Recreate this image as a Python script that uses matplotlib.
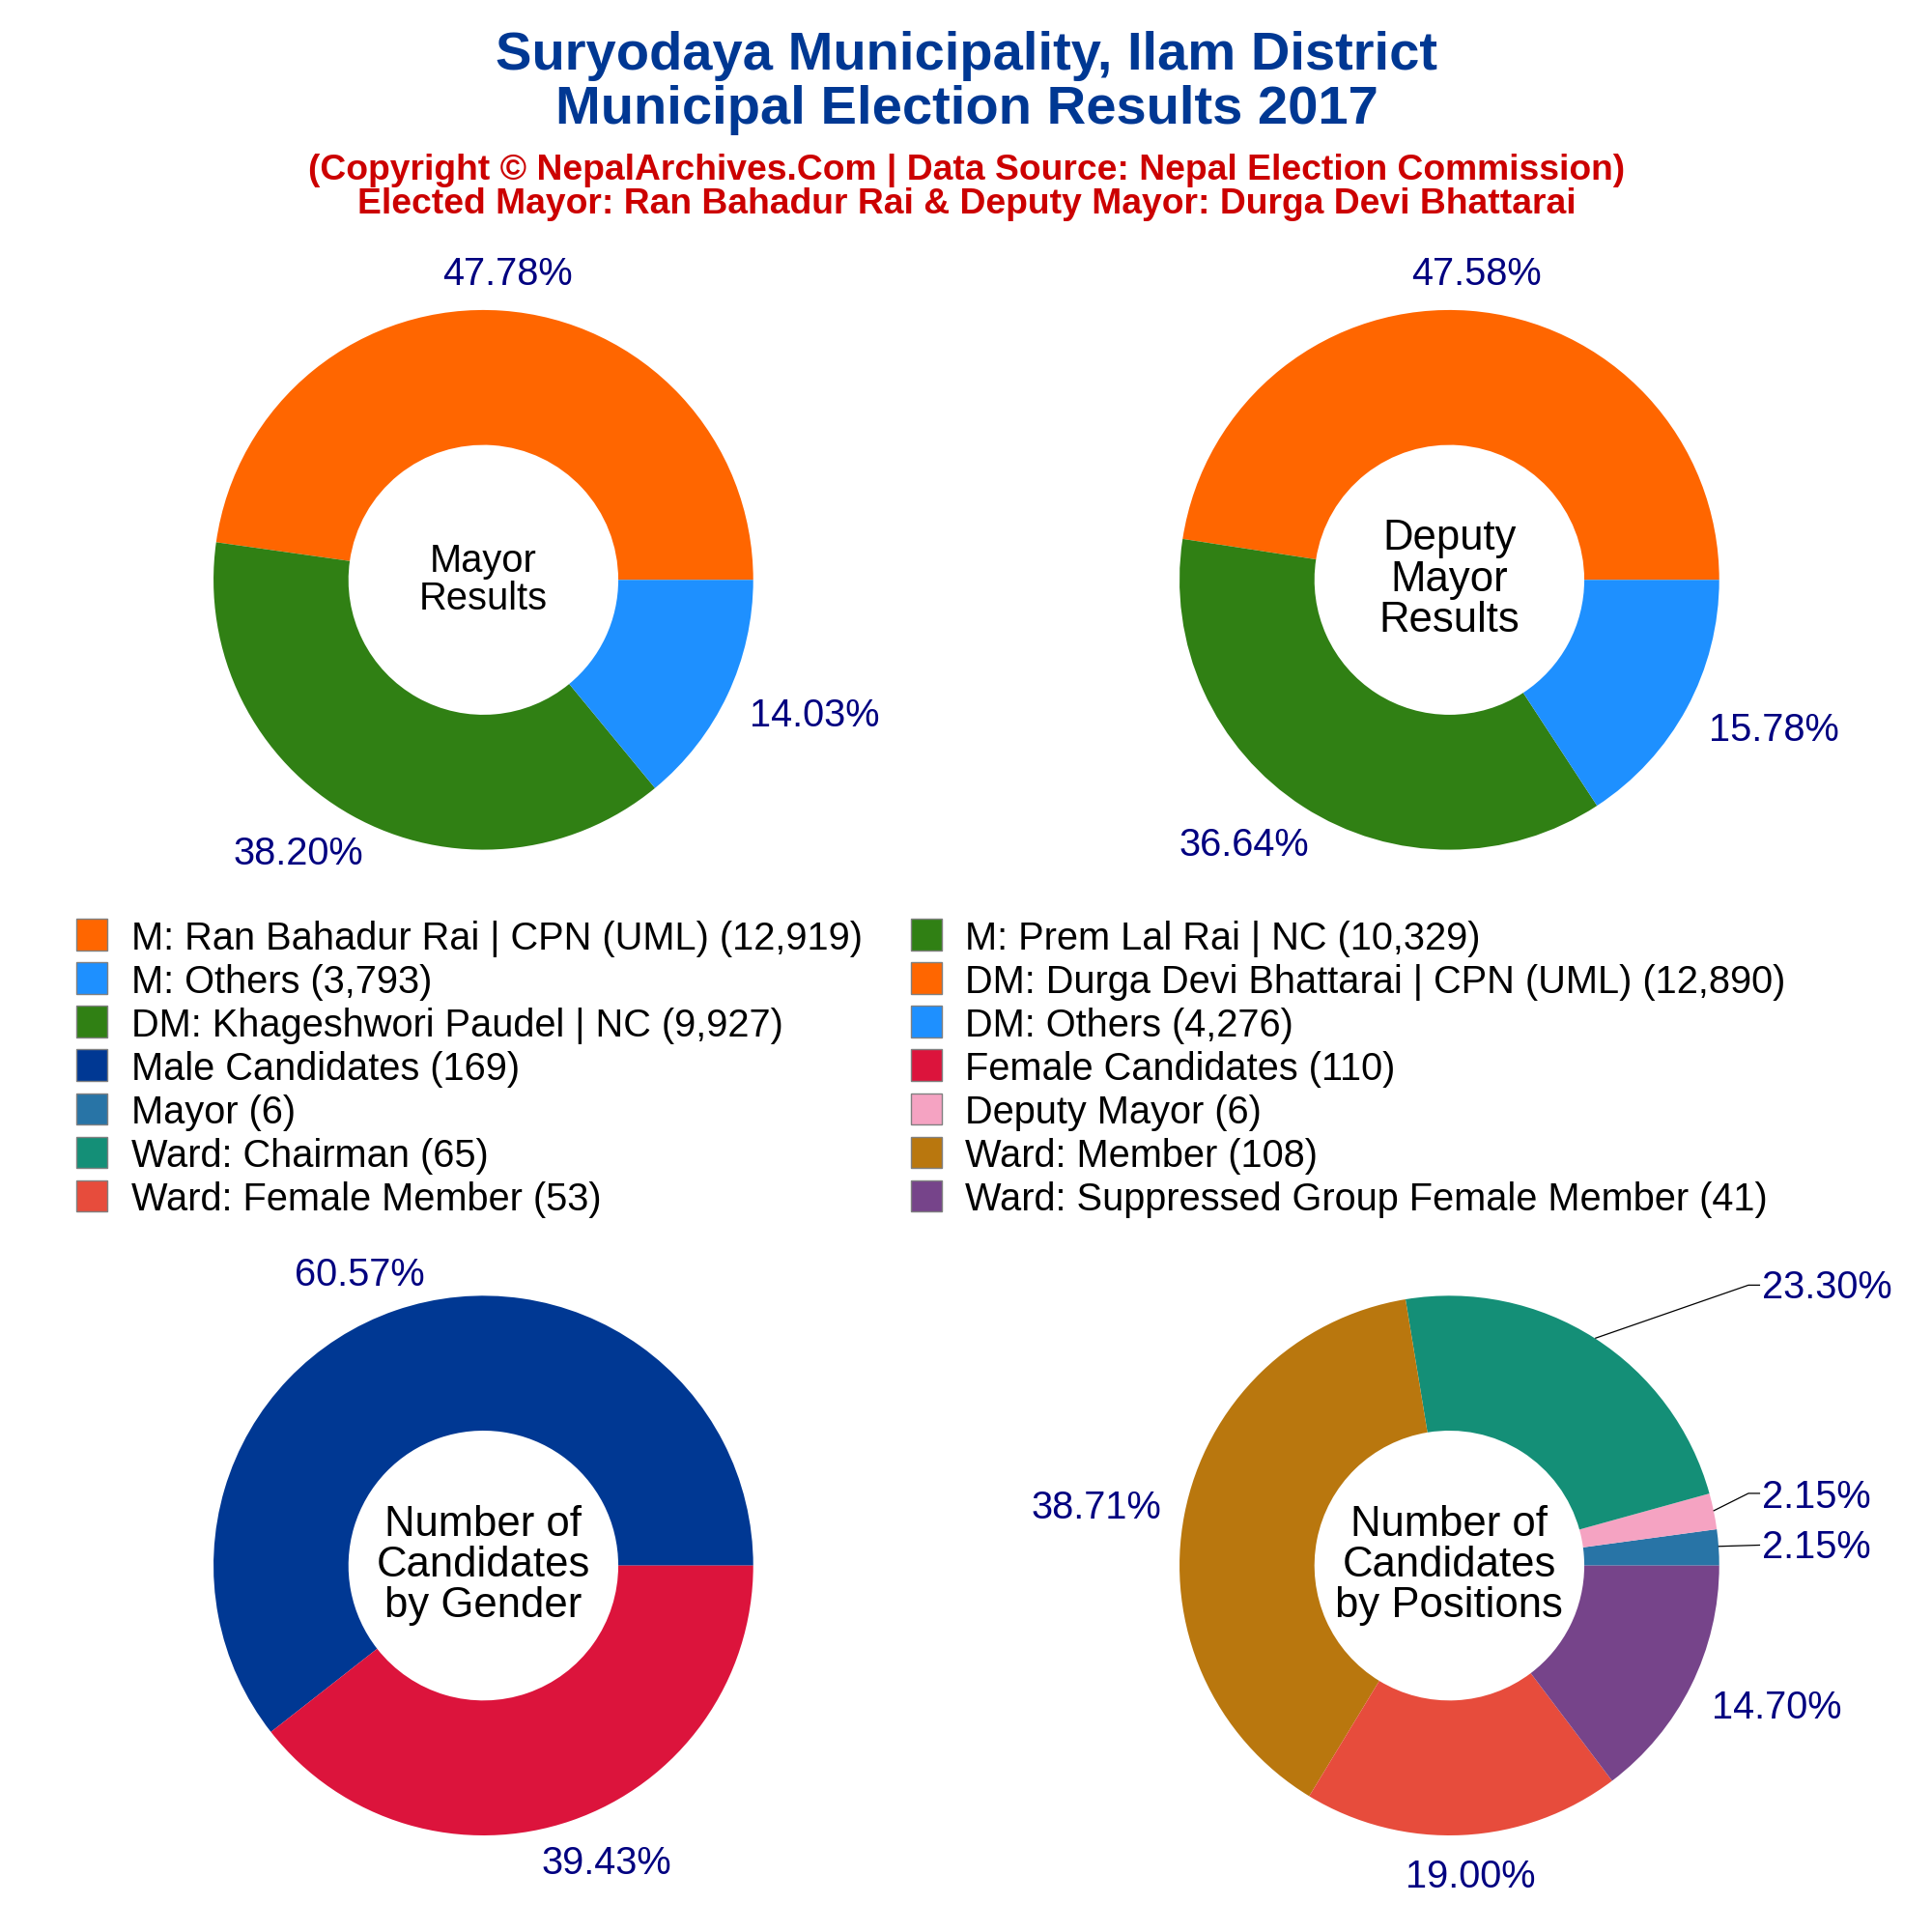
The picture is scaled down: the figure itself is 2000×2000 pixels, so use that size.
import matplotlib
matplotlib.use('Agg')
import matplotlib.pyplot as plt
from matplotlib.patches import Rectangle

plt.rcParams['font.family'] = ['Liberation Sans', 'DejaVu Sans']

W = 1568.0

mayor_votes = [12919, 10329, 3793]
deputy_votes = [12890, 9927, 4276]
gender_counts = [169, 110]
position_counts = [6, 6, 65, 108, 53, 41]

mayor_colors = ['#FF6600', '#308014', '#1E90FF']
deputy_colors = ['#FF6600', '#308014', '#1E90FF']
gender_colors = ['#003893', '#DC143C']
position_colors = ['#2874A6', '#F5A3C2', '#148F77', '#B9770E', '#E74C3C', '#76448A']

mayor_pct = ['47.78%', '38.20%', '14.03%']
deputy_pct = ['47.58%', '36.64%', '15.78%']
gender_pct = ['60.57%', '39.43%']
position_pct = ['2.15%', '2.15%', '23.30%', '38.71%', '19.00%', '14.70%']

legend_left = ['M: Ran Bahadur Rai | CPN (UML) (12,919)', 'M: Others (3,793)',
               'DM: Khageshwori Paudel | NC (9,927)', 'Male Candidates (169)',
               'Mayor (6)', 'Ward: Chairman (65)', 'Ward: Female Member (53)']
legend_right = ['M: Prem Lal Rai | NC (10,329)', 'DM: Durga Devi Bhattarai | CPN (UML) (12,890)',
                'DM: Others (4,276)', 'Female Candidates (110)', 'Deputy Mayor (6)',
                'Ward: Member (108)', 'Ward: Suppressed Group Female Member (41)']
left_colors = ['#FF6600', '#1E90FF', '#308014', '#003893', '#2874A6', '#148F77', '#E74C3C']
right_colors = ['#308014', '#FF6600', '#1E90FF', '#DC143C', '#F5A3C2', '#B9770E', '#76448A']


def fx(x):
    return x / W


def fy(y):
    return 1 - y / W


fig = plt.figure(figsize=(10, 10), dpi=200)


def donut(cx, cy, values, colors, centre, pcts, pct_xy, fs=15.7):
    r = 219.0
    ax = fig.add_axes([fx(cx - r), fy(cy + r), 2 * r / W, 2 * r / W])
    ax.pie(values, colors=colors, startangle=0, counterclock=True, radius=1,
           wedgeprops=dict(width=0.5, linewidth=0))
    ax.set_xlim(-1, 1)
    ax.set_ylim(-1, 1)
    ax.text(0, 0, centre, ha='center', va='center', fontsize=fs, linespacing=1.04, color='black')
    for p, (x, y) in zip(pcts, pct_xy):
        fig.text(fx(x), fy(y + 2), p, ha='center', va='center', fontsize=14.3, color='#000080')
    return ax


fig.text(fx(784.5), fy(45.5), 'Suryodaya Municipality, Ilam District', ha='center', va='center',
         fontsize=20.2, fontweight='bold', color='#003893')
fig.text(fx(784.5), fy(89.5), 'Municipal Election Results 2017', ha='center', va='center',
         fontsize=20.2, fontweight='bold', color='#003893')
fig.text(fx(784.5), fy(138), '(Copyright © NepalArchives.Com | Data Source: Nepal Election Commission)',
         ha='center', va='center', fontsize=13.4, fontweight='bold', color='#CC0000')
fig.text(fx(785), fy(166), 'Elected Mayor: Ran Bahadur Rai & Deputy Mayor: Durga Devi Bhattarai',
         ha='center', va='center', fontsize=13.4, fontweight='bold', color='#CC0000')

donut(392.3, 470.6, mayor_votes, mayor_colors, 'Mayor\nResults', mayor_pct,
      [(412, 221), (242, 691), (661, 579)], fs=14.35)
donut(1176.3, 470.6, deputy_votes, deputy_colors, 'Deputy\nMayor\nResults', deputy_pct,
      [(1198, 221), (1009.5, 684), (1439.5, 591)])
donut(392.3, 1270.6, gender_counts, gender_colors, 'Number of\nCandidates\nby Gender', gender_pct,
      [(292, 1033), (492.5, 1510)])
donut(1176.3, 1270.6, position_counts, position_colors, 'Number of\nCandidates\nby Positions', position_pct,
      [(1474, 1254), (1474, 1213), (1482.5, 1043), (890, 1222), (1193.5, 1521), (1442, 1384)])

# leader lines for the small slices
line_ax = fig.add_axes([0, 0, 1, 1], facecolor='none')
line_ax.set_xlim(0, W)
line_ax.set_ylim(W, 0)
line_ax.axis('off')
for xs, ys in [([1295, 1419, 1428], [1086, 1043, 1043]),
               ([1391, 1419, 1428], [1226, 1212, 1212]),
               ([1395, 1428], [1255, 1254])]:
    line_ax.plot(xs, ys, color='black', lw=0.45)

rows_y = [758.5, 793.8, 829.1, 864.4, 899.7, 935.0, 970.3]
for labels, colors, x0 in [(legend_left, left_colors, 62), (legend_right, right_colors, 739)]:
    for lab, c, y in zip(labels, colors, rows_y):
        line_ax.add_patch(Rectangle((x0, y - 12.6), 25.4, 25.2, facecolor=c, edgecolor='#808080', lw=0.5))
        line_ax.text(x0 + 44.5, y + 3.3, lab, ha='left', va='center', fontsize=14.3, color='black')

plt.savefig('out.png', dpi=200)
